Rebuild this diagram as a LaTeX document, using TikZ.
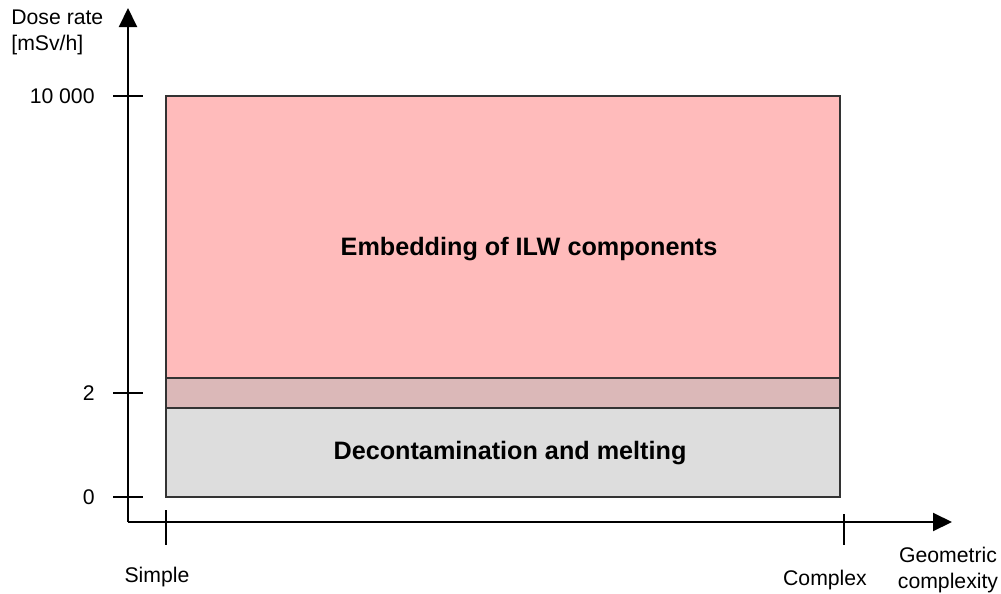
\documentclass[tikz,border=0pt]{standalone}
\usepackage{fontspec}
\setmainfont{Liberation Sans}
\usetikzlibrary{arrows.meta,positioning}
\definecolor{ilwPink}{HTML}{FFBBBB}
\definecolor{ovlRose}{HTML}{DBB8B8}
\definecolor{deconGrey}{HTML}{DDDDDD}
\definecolor{frameGrey}{HTML}{333333}
\tikzset{
  axis/.style     = {draw=black, line width=1pt, -{Triangle[length=9.5pt,width=9pt]}},
  tick/.style     = {draw=black, line width=0.8pt},
  region/.style   = {draw=frameGrey, line width=0.8pt},
  lab/.style      = {font=\fontsize{10.6}{13}\selectfont, inner sep=1pt},
  ticklab/.style  = {lab, anchor=east},
  boxlab/.style   = {font=\fontsize{12.6}{15}\selectfont\bfseries, inner sep=1pt},
}
\begin{document}
\begin{tikzpicture}[x=0.5pt,y=-0.5pt]
  \useasboundingbox (0,0) rectangle (1001,594);
  % regions
  \fill[ilwPink]   (166,96)  rectangle (840,378);
  \fill[ovlRose]   (166,378) rectangle (840,408);
  \fill[deconGrey] (166,408) rectangle (840,497);
  \draw[region] (166,96) rectangle (840,408);
  \draw[region] (166,378) rectangle (840,497);
  \node[boxlab] (ilw)   at (529,249) {Embedding of ILW components};
  \node[boxlab] (decon) at (510,453) {Decontamination and melting};
  % axes
  \coordinate (o)  at (128,522);
  \coordinate (yt) at (128,8);
  \coordinate (xt) at (952,522);
  \draw[axis] (o) -- (yt);
  \draw[axis] (o) -- (xt);
  % ticks on the dose axis
  \foreach \yy/\txt/\nm in {96/10 000/hi, 393/2/mid, 497/0/lo}{
    \coordinate (t\nm a) at (113,\yy);
    \coordinate (t\nm b) at (143,\yy);
    \draw[tick] (t\nm a) -- (t\nm b);
    \node[ticklab] (l\nm) at (97,\yy) {\txt};
  }
  % ticks on the complexity axis
  \coordinate (sa) at (166,510); \coordinate (sb) at (166,545);
  \coordinate (ca) at (844,514); \coordinate (cb) at (844,545);
  \draw[tick] (sa) -- (sb);
  \draw[tick] (ca) -- (cb);
  % axis labels
  \node[lab, align=left, anchor=west] (ylab) at (9,32) {Dose rate\\{}[mSv/h]};
  \node[lab] (simple)  at (157,577) {Simple};
  \node[lab] (complex) at (825,580) {Complex};
  \node[lab, align=center] (xlab) at (948,570) {Geometric\\complexity};
\end{tikzpicture}
\end{document}
